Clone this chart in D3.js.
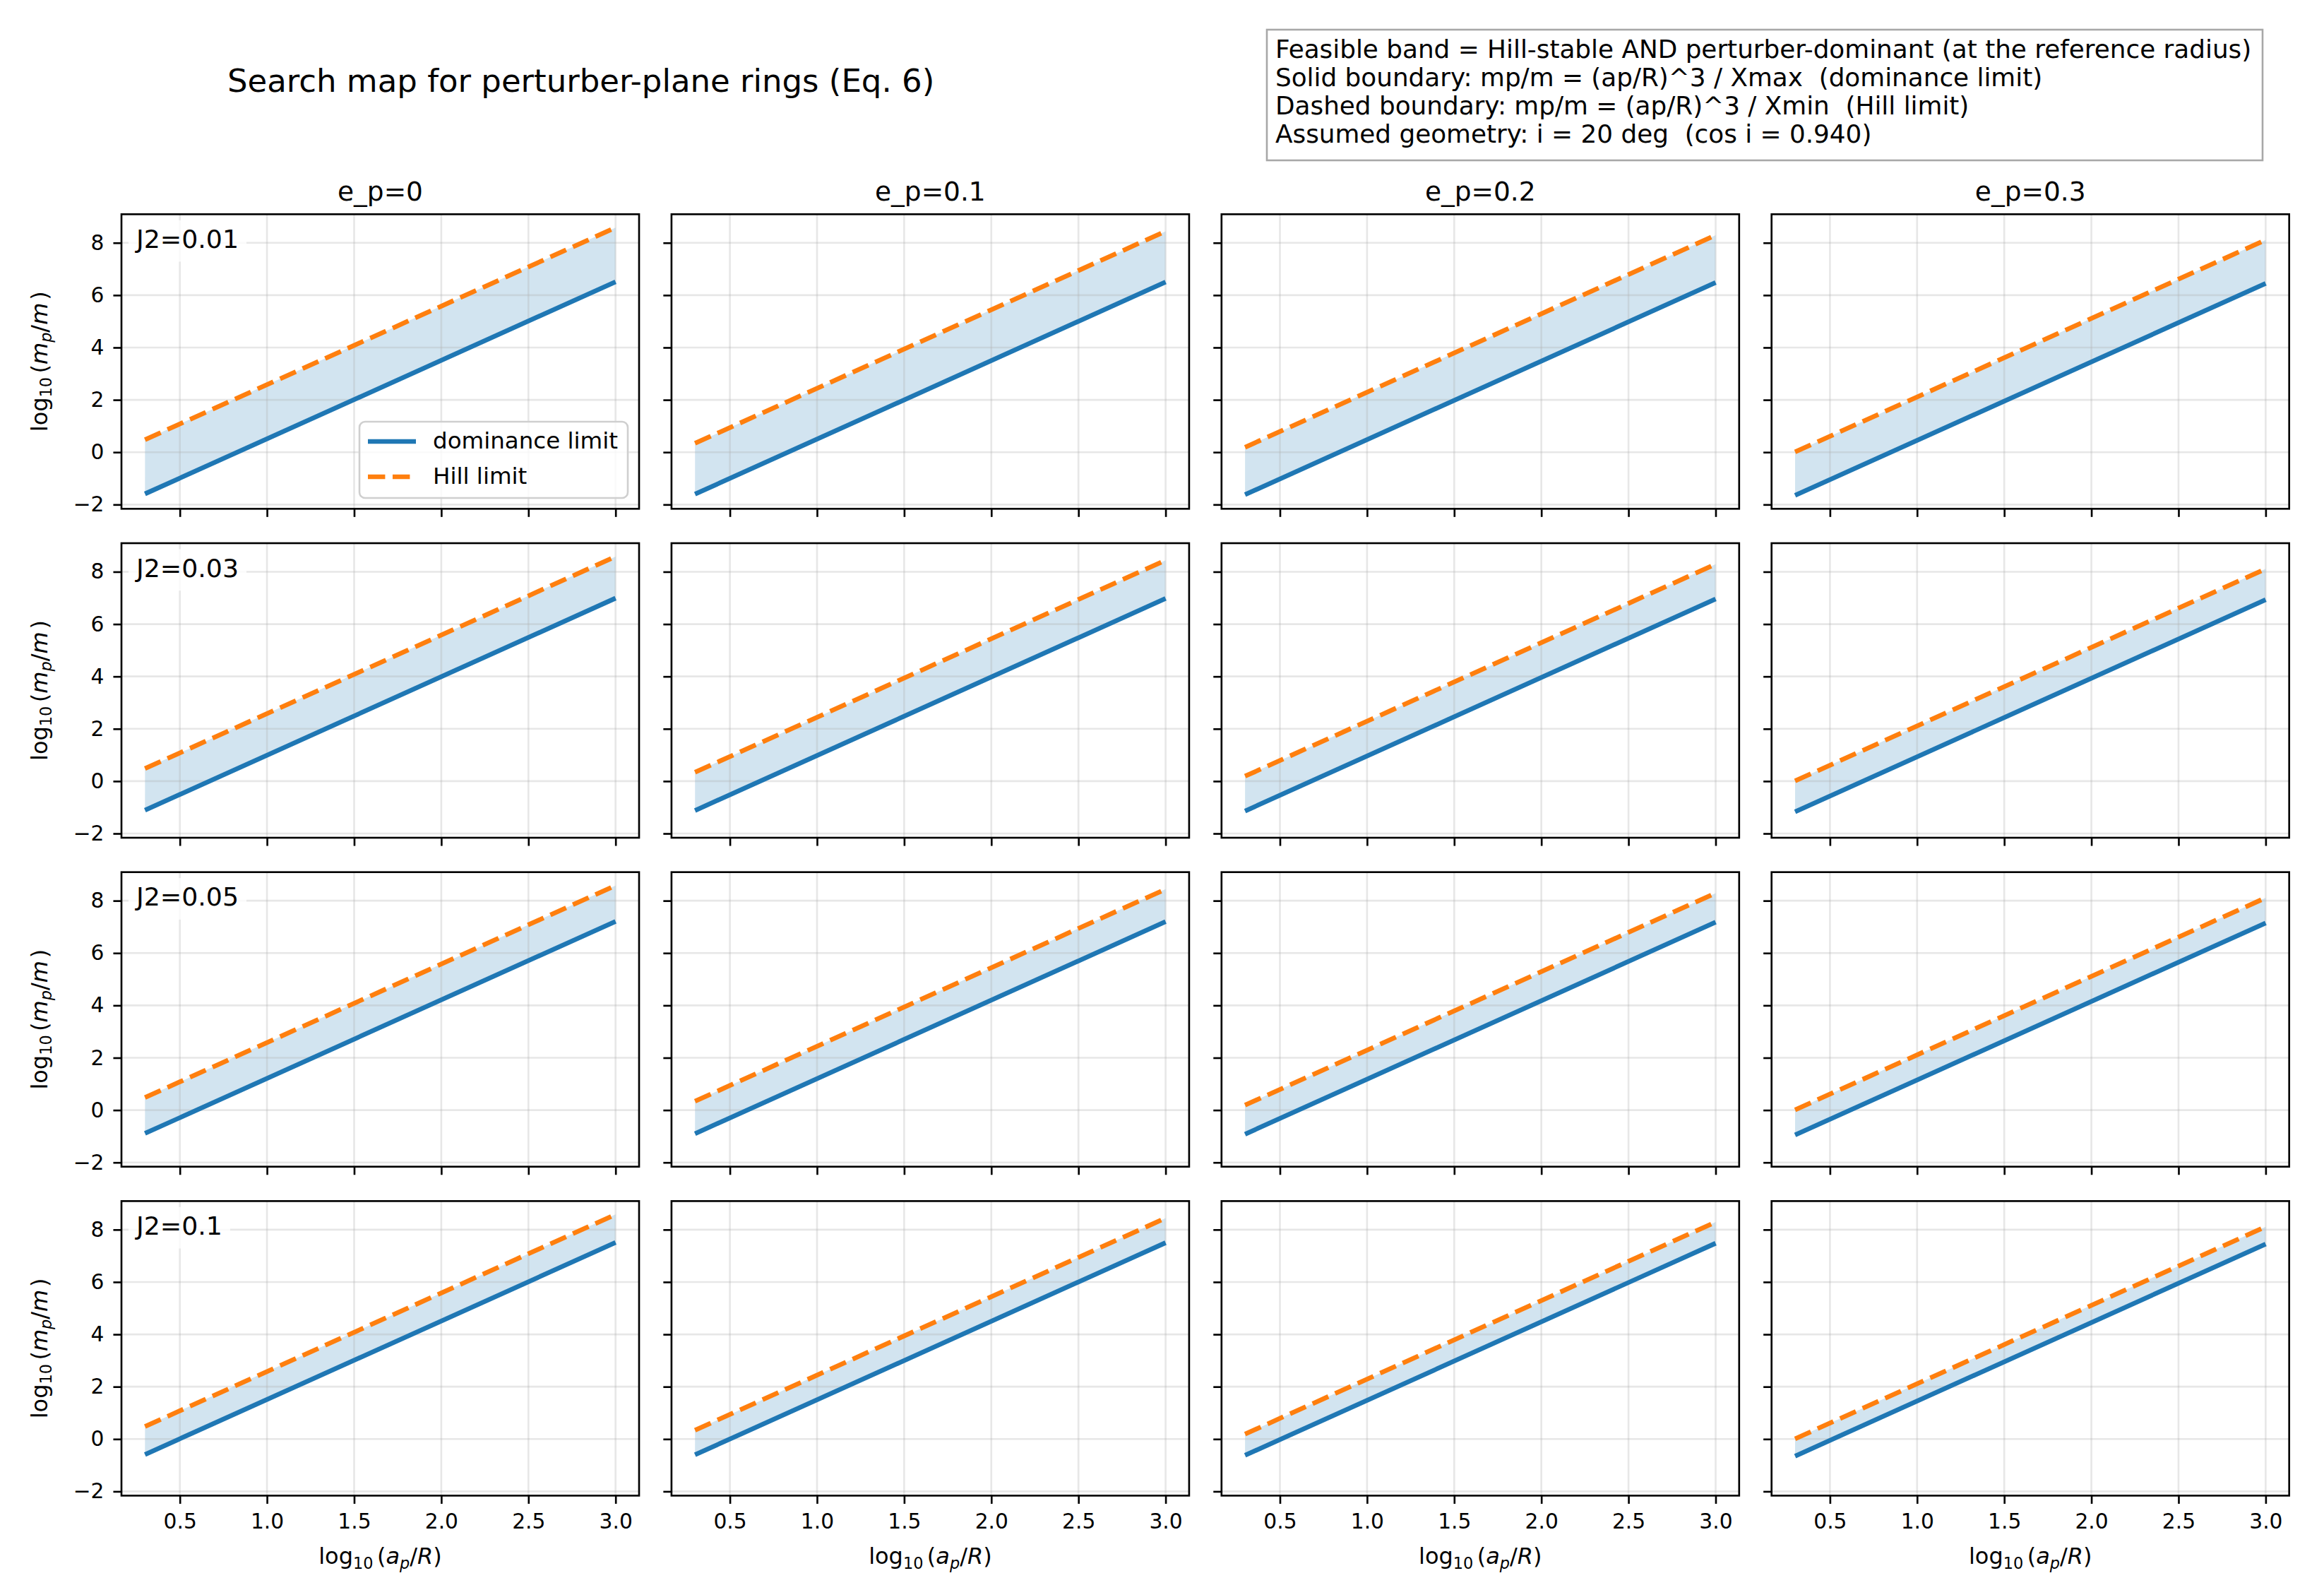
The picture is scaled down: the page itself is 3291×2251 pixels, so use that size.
<!DOCTYPE html>
<html>
<head>
<meta charset="utf-8">
<script src="https://cdn.jsdelivr.net/npm/d3@7"></script>
<style>
  html, body { margin: 0; padding: 0; background: #fff; }
  svg { display: block; font-family: 'DejaVu Sans', sans-serif; }
  .note { white-space: pre; }
</style>
</head>
<body>
<svg id="chart" width="3291" height="2251"></svg>
<script>
// columns: perturber eccentricity, rows: J2
const eccentricities = [0, 0.1, 0.2, 0.3];
const j2Values = [0.01, 0.03, 0.05, 0.1];

// log10(ap/R) at the two ends of every boundary line
const apGrid = [0.3, 3.0];

// Hill limit, one per eccentricity (same in every row)
const hillStart = [0.48, 0.34, 0.19, 0.01];
const hillEnd = [8.58, 8.44, 8.29, 8.11];

// dominance limit, [J2 row][eccentricity column]
const dominanceStart = [
    [-1.59, -1.60, -1.62, -1.65],
    [-1.11, -1.12, -1.14, -1.17],
    [-0.89, -0.90, -0.92, -0.95],
    [-0.59, -0.60, -0.62, -0.65]
];
const dominanceEnd = [
    [6.51, 6.50, 6.48, 6.45],
    [6.99, 6.98, 6.96, 6.93],
    [7.21, 7.20, 7.18, 7.15],
    [7.51, 7.50, 7.48, 7.45]
];

const xTicks = [0.5, 1.0, 1.5, 2.0, 2.5, 3.0];
const yTicks = [-2, 0, 2, 4, 6, 8];
const legendLabels = ['dominance limit', 'Hill limit'];
const noteLines = [
    'Feasible band = Hill-stable AND perturber-dominant (at the reference radius)',
    'Solid boundary: mp/m = (ap/R)^3 / Xmax  (dominance limit)',
    'Dashed boundary: mp/m = (ap/R)^3 / Xmin  (Hill limit)',
    'Assumed geometry: i = 20 deg  (cos i = 0.940)'
];
const titleText = 'Search map for perturber-plane rings (Eq. 6)';

const BLUE = '#1f77b4';
const ORANGE = '#ff7f0e';
const PT = 3.3;                 // pixels per point
const PANEL_W = 733;
const PANEL_H = 417;
const LEFT0 = 172, COL_STEP = 778.9;
const TOP0 = 303.3, ROW_STEP = 465.7;

const svg = d3.select('#chart');

// shared scales with matplotlib-like 5% margins
const xPad = (apGrid[1] - apGrid[0]) * 0.05;
const x = d3.scaleLinear()
    .domain([apGrid[0] - xPad, apGrid[1] + xPad])
    .range([0, PANEL_W]);

const allY = hillStart.concat(hillEnd, dominanceStart.flat(), dominanceEnd.flat());
const yMin = d3.min(allY), yMax = d3.max(allY);
const yPad = (yMax - yMin) * 0.05;
const y = d3.scaleLinear()
    .domain([yMin - yPad, yMax + yPad])
    .range([PANEL_H, 0]);

const line = d3.line().x(d => x(d.x)).y(d => y(d.v));
const area = d3.area().x(d => x(d.x)).y0(d => y(d.dom)).y1(d => y(d.hill));

function styleAxis(sel) {
    sel.select('.domain').remove();
    sel.selectAll('.tick line')
        .attr('stroke', '#000')
        .attr('stroke-width', 0.8 * PT);
    sel.selectAll('.tick text')
        .attr('fill', '#000')
        .attr('font-size', 29.7)
        .attr('font-family', 'DejaVu Sans');
}

// mathtext-ish label: log_10 (num_p/den)
function mathLabel(textSel, num, den, size) {
    const sub = size * 0.7;
    const shift = size * 0.2;
    textSel.attr('font-size', size).attr('fill', '#000');
    textSel.append('tspan').text('log');
    textSel.append('tspan').attr('font-size', sub).attr('dy', shift).text('10');
    textSel.append('tspan').attr('dy', -shift).attr('dx', size * 0.17).text('(');
    textSel.append('tspan').attr('font-style', 'italic').text(num);
    textSel.append('tspan').attr('font-size', sub).attr('font-style', 'italic').attr('dy', shift).text('p');
    textSel.append('tspan').attr('dy', -shift).text('/');
    textSel.append('tspan').attr('font-style', 'italic').text(den);
    textSel.append('tspan').attr('dx', den === 'm' ? size * 0.12 : 0).text(')');
}

function drawPanel(r, c) {
    const left = LEFT0 + c * COL_STEP;
    const top = TOP0 + r * ROW_STEP;
    const g = svg.append('g').attr('transform', `translate(${left},${top})`);

    const dom = [dominanceStart[r][c], dominanceEnd[r][c]];
    const hill = [hillStart[c], hillEnd[c]];
    const band = apGrid.map((v, i) => ({ x: v, dom: dom[i], hill: hill[i] }));

    // feasible band
    g.append('path')
        .attr('d', area(band))
        .attr('fill', BLUE)
        .attr('fill-opacity', 0.2);

    // grid
    const grid = g.append('g')
        .attr('stroke', '#b0b0b0')
        .attr('stroke-opacity', 0.3)
        .attr('stroke-width', 0.8 * PT);
    grid.selectAll('.gx').data(xTicks).enter().append('line')
        .attr('x1', d => x(d)).attr('x2', d => x(d))
        .attr('y1', 0).attr('y2', PANEL_H);
    grid.selectAll('.gy').data(yTicks).enter().append('line')
        .attr('y1', d => y(d)).attr('y2', d => y(d))
        .attr('x1', 0).attr('x2', PANEL_W);

    // boundaries
    g.append('path')
        .attr('d', line(apGrid.map((v, i) => ({ x: v, v: dom[i] }))))
        .attr('fill', 'none')
        .attr('stroke', BLUE)
        .attr('stroke-width', 2 * PT);
    g.append('path')
        .attr('d', line(apGrid.map((v, i) => ({ x: v, v: hill[i] }))))
        .attr('fill', 'none')
        .attr('stroke', ORANGE)
        .attr('stroke-width', 2 * PT)
        .attr('stroke-dasharray', `${7.4 * PT},${3.2 * PT}`);

    // axes
    g.append('g')
        .attr('transform', `translate(0,${PANEL_H})`)
        .call(d3.axisBottom(x)
            .tickValues(xTicks)
            .tickSize(3.5 * PT)
            .tickPadding(13.5)
            .tickFormat(r === j2Values.length - 1 ? d3.format('.1f') : () => ''))
        .call(styleAxis);
    g.append('g')
        .call(d3.axisLeft(y)
            .tickValues(yTicks)
            .tickSize(3.5 * PT)
            .tickPadding(13)
            .tickFormat(c === 0 ? d3.format('d') : () => ''))
        .call(styleAxis);

    g.append('rect')
        .attr('width', PANEL_W)
        .attr('height', PANEL_H)
        .attr('fill', 'none')
        .attr('stroke', '#000')
        .attr('stroke-width', 0.8 * PT);

    if (r === 0) {
        svg.append('text')
            .attr('x', left + PANEL_W / 2)
            .attr('y', top - 6 * PT)
            .attr('text-anchor', 'middle')
            .attr('font-size', 37.5)
            .attr('fill', '#000')
            .text('e_p=' + eccentricities[c]);
    }
    if (c === 0) {
        // J2 tag with a white box behind it, first column only
        const tagBox = g.append('rect').attr('fill', '#fff').attr('fill-opacity', 0.8);
        const tag = g.append('text')
            .attr('x', 21)
            .attr('y', 47.5)
            .attr('font-size', 36.3)
            .attr('fill', '#000')
            .text('J2=' + j2Values[r]);
        const tw = tag.node().getComputedTextLength();
        tagBox.attr('x', 21 - 11).attr('y', 47.5 - 28 - 11)
            .attr('width', tw + 22).attr('height', 28 + 8.6 + 22);

        const yl = svg.append('text')
            .attr('transform', `translate(67,${top + PANEL_H / 2}) rotate(-90)`)
            .attr('text-anchor', 'middle');
        mathLabel(yl, 'm', 'm', 32);
    }
    if (r === j2Values.length - 1) {
        const xl = svg.append('text')
            .attr('x', left + PANEL_W / 2)
            .attr('y', top + PANEL_H + 96.7)
            .attr('text-anchor', 'middle');
        mathLabel(xl, 'a', 'R', 32);
    }
    if (r === 0 && c === 0) drawLegend(g);
}

function drawLegend(g) {
    const lw = 380, lh = 108;
    const lg = g.append('g')
        .attr('transform', `translate(${PANEL_W - 16 - lw},${PANEL_H - 15.3 - lh})`);
    lg.append('rect')
        .attr('width', lw).attr('height', lh)
        .attr('rx', 8).attr('ry', 8)
        .attr('fill', '#fff').attr('fill-opacity', 0.8)
        .attr('stroke', '#cfcfcf').attr('stroke-width', 2.6);
    const styles = [
        { color: BLUE, dash: null },
        { color: ORANGE, dash: `${7.4 * PT},${3.2 * PT}` }
    ];
    legendLabels.forEach((label, i) => {
        const cy = 28 + i * 50;
        lg.append('line')
            .attr('x1', 12).attr('x2', 80)
            .attr('y1', cy).attr('y2', cy)
            .attr('stroke', styles[i].color)
            .attr('stroke-width', 2 * PT)
            .attr('stroke-dasharray', styles[i].dash);
        lg.append('text')
            .attr('x', 104)
            .attr('y', cy + 10)
            .attr('font-size', 32.5)
            .attr('fill', '#000')
            .text(label);
    });
}

for (let r = 0; r < j2Values.length; r++) {
    for (let c = 0; c < eccentricities.length; c++) {
        drawPanel(r, c);
    }
}

// figure title
svg.append('text')
    .attr('x', 822.6)
    .attr('y', 130)
    .attr('text-anchor', 'middle')
    .attr('font-size', 45)
    .attr('fill', '#000')
    .text(titleText);

// explanatory note box
svg.append('rect')
    .attr('x', 1794).attr('y', 42)
    .attr('width', 1410).attr('height', 185)
    .attr('fill', '#fff')
    .attr('stroke', '#a8a8a8')
    .attr('stroke-width', 2.6);
svg.selectAll('.note').data(noteLines).enter().append('text')
    .attr('class', 'note')
    .attr('x', 1806)
    .attr('y', (d, i) => 81.5 + i * 40)
    .attr('font-size', 35.8)
    .attr('fill', '#000')
    .text(d => d);
</script>
</body>
</html>
